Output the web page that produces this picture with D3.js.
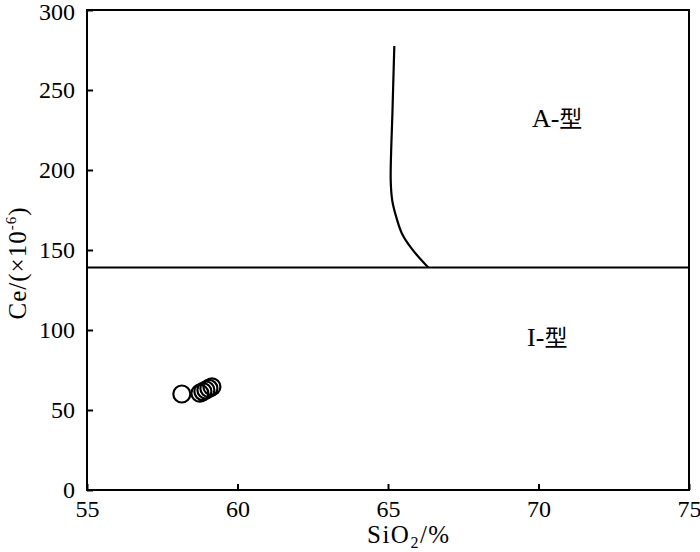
<!DOCTYPE html>
<html>
<head>
<meta charset="utf-8">
<script src="https://cdn.jsdelivr.net/npm/d3@7"></script>
<style>
  body { margin: 0; background: #fff; }
  text { font-family: "Liberation Serif", "Times New Roman", serif; fill: #000; }
  .cjk { font-family: "Noto Sans CJK SC", sans-serif; }
</style>
</head>
<body>
<div id="chart"></div>
<script>
// SiO2 (%) vs Ce (ppm) samples
var sio2 = [58.15, 58.75, 58.85, 58.95, 59.05, 59.15];
var ce   = [60.0, 60.5, 61.5, 62.5, 63.5, 64.5];

// A-type / I-type boundary
var boundaryCe = 139;
var curveSio2 = [65.21, 65.15, 65.09, 65.14, 65.26, 65.47, 65.80, 66.34];
var curveCe   = [277.5, 237.5, 193.7, 181, 171.5, 160, 150.5, 139];

var xTicks = [55, 60, 65, 70, 75];
var yTicks = [0, 50, 100, 150, 200, 250, 300];

var w = 700, h = 552;
var margin = {left: 87, top: 10, right: 11, bottom: 62};
var pw = w - margin.left - margin.right;
var ph = h - margin.top - margin.bottom;

var svg = d3.select("#chart").append("svg")
    .attr("width", w).attr("height", h);

var x = d3.scaleLinear().domain([55, 75]).range([0, pw]);
var y = d3.scaleLinear().domain([0, 300]).range([ph, 0]);

var g = svg.append("g")
    .attr("transform", "translate(" + margin.left + "," + margin.top + ")");

// axes, ticks pointing inward
var xAxis = g.append("g")
    .attr("transform", "translate(0," + ph + ")")
    .call(d3.axisBottom(x).tickValues(xTicks).tickSize(-6).tickPadding(10));
var yAxis = g.append("g")
    .call(d3.axisLeft(y).tickValues(yTicks).tickSize(-6).tickPadding(12));

[xAxis, yAxis].forEach(function(a) {
    a.select(".domain").remove();
    a.selectAll("line").attr("stroke", "#000").attr("stroke-width", 2);
    a.selectAll("text").attr("font-size", 24)
        .attr("font-family", "Liberation Serif, serif");
});
// keep the top label inside the page
yAxis.selectAll("text").filter(function(d) { return d === 300; }).attr("dy", "0.4em");

// frame
g.append("rect")
    .attr("width", pw).attr("height", ph)
    .attr("fill", "none").attr("stroke", "#000").attr("stroke-width", 2);

// horizontal divider
g.append("line")
    .attr("x1", 0).attr("x2", pw)
    .attr("y1", y(boundaryCe)).attr("y2", y(boundaryCe))
    .attr("stroke", "#000").attr("stroke-width", 2);

var curve = curveSio2.map(function(d, i) { return [d, curveCe[i]]; });
g.append("path")
    .datum(curve)
    .attr("d", d3.line().x(function(d) { return x(d[0]); })
        .y(function(d) { return y(d[1]); }).curve(d3.curveCatmullRom))
    .attr("fill", "none").attr("stroke", "#000").attr("stroke-width", 2.2);

// samples
g.selectAll("circle.pt")
    .data(sio2.map(function(d, i) { return {x: d, y: ce[i]}; }))
    .enter().append("circle")
    .attr("class", "pt")
    .attr("cx", function(d) { return x(d.x); })
    .attr("cy", function(d) { return y(d.y); })
    .attr("r", 8.5)
    .attr("fill", "none")
    .attr("stroke", "#000")
    .attr("stroke-width", 2.2);

// field labels
function fieldLabel(sx, cy, latin) {
    var t = g.append("text")
        .attr("x", x(sx)).attr("y", y(cy))
        .attr("font-size", 26);
    t.append("tspan").text(latin);
    t.append("tspan").attr("class", "cjk").attr("font-size", 23).text("型");
}
fieldLabel(69.78, 227, "A-");
fieldLabel(69.62, 90, "I-");

// axis titles
var xt = svg.append("text")
    .attr("x", 367).attr("y", 543)
    .attr("font-size", 25).attr("letter-spacing", 1.5);
xt.append("tspan").text("SiO");
xt.append("tspan").attr("font-size", 16).attr("dy", 5).text("2");
xt.append("tspan").attr("dy", -5).text("/%");

var yt = svg.append("text")
    .attr("transform", "translate(26,263) rotate(-90)")
    .attr("text-anchor", "middle").attr("font-size", 25).attr("letter-spacing", 1);
yt.append("tspan").text("Ce/(×10");
yt.append("tspan").attr("font-size", 15).attr("dy", -10).text("-6");
yt.append("tspan").attr("dy", 10).text(")");
</script>
</body>
</html>
